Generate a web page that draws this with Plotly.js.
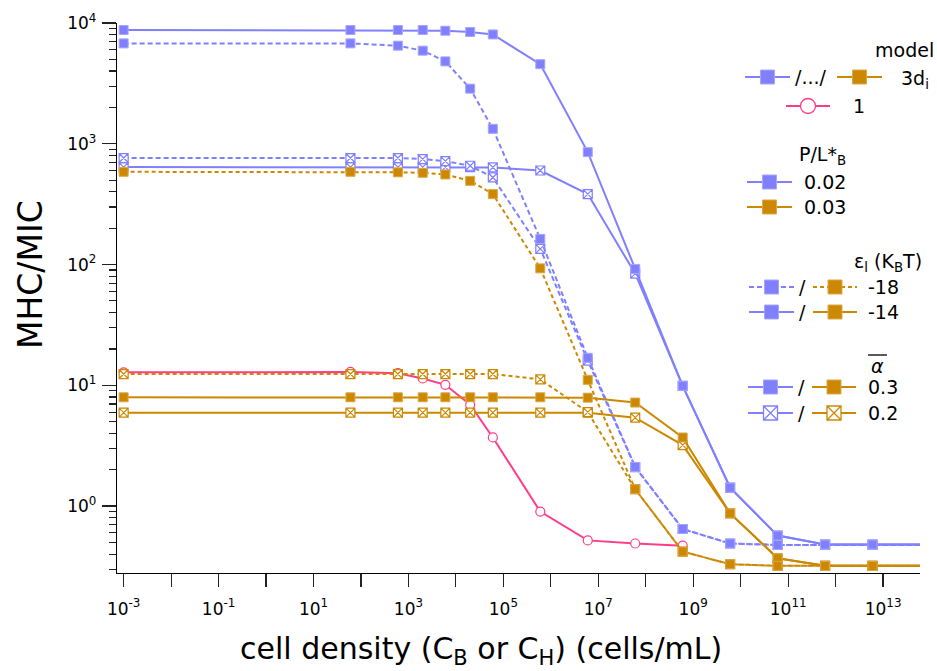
<!DOCTYPE html>
<html>
<head>
<meta charset="utf-8">
<script src="https://cdn.plot.ly/plotly-3.0.1.min.js"></script>
<style>html,body{margin:0;padding:0;background:#fff;}#chart{width:937px;height:671px;}</style>
</head>
<body>
<div id="chart"></div>
<script>
// ---------- data ----------
const cellDensity = [1e-3, 60, 600, 2000, 6000, 2e4, 6e4, 6e5, 6e6, 6e7, 6e8, 6e9, 6e10, 6e11, 6e12, 6e13];
const cellDensityModel1 = [1e-3, 60, 600, 2000, 6000, 2e4, 6e4, 6e5, 6e6, 6e7, 6e8];

// model /.../ (blue)
const blueSolidFilled  = [8750, 8750, 8750, 8750, 8630, 8420, 8040, 4560, 853, 92, 9.9, 1.42, 0.57, 0.48, 0.48, 0.48];
const blueDotFilled    = [6780, 6780, 6490, 5900, 4810, 2860, 1330, 163, 16.9, 2.11, 0.646, 0.49, 0.477, 0.477, 0.477, 0.477];
const blueDotCrossed   = [762, 762, 762, 747, 719, 658, 526, 135, 16.0, 2.1, 0.646, 0.49, 0.477, 0.477, 0.477, 0.477];
const blueSolidCrossed = [641, 641, 641, 641, 641, 641, 637, 601, 383, 84, 9.9, 1.42, 0.57, 0.48, 0.48, 0.48];

// model 3d_i (orange)
const orangeDotFilled    = [586, 586, 580, 575, 557, 493, 383, 93, 11.1, 1.38, 0.42, 0.33, 0.32, 0.32, 0.32, 0.32];
const orangeDotCrossed   = [12.4, 12.4, 12.4, 12.4, 12.4, 12.4, 12.4, 11.2, 6.0, 1.38, 0.42, 0.33, 0.32, 0.32, 0.32, 0.32];
const orangeSolidFilled  = [7.96, 7.96, 7.96, 7.96, 7.96, 7.96, 7.96, 7.96, 7.9, 7.2, 3.7, 0.87, 0.37, 0.32, 0.32, 0.32];
const orangeSolidCrossed = [5.94, 5.94, 5.94, 5.94, 5.94, 5.94, 5.94, 5.94, 5.94, 5.4, 3.2, 0.87, 0.37, 0.32, 0.32, 0.32];

// model 1 (pink)
const model1 = [12.8, 12.9, 12.6, 11.4, 10.1, 6.9, 3.7, 0.9, 0.52, 0.49, 0.47];

// tick labels
const xTickVals = [1e-3,1e-2,1e-1,1,10,100,1e3,1e4,1e5,1e6,1e7,1e8,1e9,1e10,1e11,1e12,1e13];
const xTickText = ['10<sup>-3</sup>','','10<sup>-1</sup>','','10<sup>1</sup>','','10<sup>3</sup>','','10<sup>5</sup>','','10<sup>7</sup>','','10<sup>9</sup>','','10<sup>11</sup>','','10<sup>13</sup>'];
const yTickVals = [1, 10, 100, 1000, 10000];
const yTickText = ['10<sup>0</sup>','10<sup>1</sup>','10<sup>2</sup>','10<sup>3</sup>','10<sup>4</sup>'];
const yMinorVals = [0.3,0.4,0.5,0.6,0.7,0.8,0.9,2,3,4,5,6,7,8,9,20,30,40,50,60,70,80,90,200,300,400,500,600,700,800,900,2000,3000,4000,5000,6000,7000,8000,9000];

// legend texts
const legendTexts = {model:'model', m1:'/.../', m2:'3d<sub>i</sub>', m3:'1', pl:'P/L*<sub>B</sub>', pl1:'0.02', pl2:'0.03',
  eps:'ε<sub>l</sub> (K<sub>B</sub>T)', e1:'-18', e2:'-14', a1:'0.3', a2:'0.2'};

// ---------- styles ----------
const BLUE = '#8080FF', BLUE_EDGE = '#A6A6FF';
const ORANGE = '#CC8800', ORANGE_EDGE = '#DDA84A';
const PINK = '#FF3D8A';
const FONT = 'DejaVu Sans, Verdana, sans-serif';
const BLUE_DOT = '5px,3px', ORANGE_DOT = '4px,3px';

function series(y, color, edge, dash, crossed, name) {
  return {
    x: cellDensity, y: y, type: 'scatter', mode: 'lines+markers', name: name,
    line: {color: color, width: 2, dash: dash},
    marker: {symbol: crossed ? 'square-x' : 'square', size: 9,
             color: crossed ? 'white' : color,
             line: {color: crossed ? color : edge, width: crossed ? 1.2 : 1}},
    cliponaxis: false, showlegend: false, hoverinfo: 'x+y'
  };
}

const traces = [
  {x: cellDensityModel1, y: model1, type: 'scatter', mode: 'lines+markers', name: '1',
   line: {color: PINK, width: 2}, marker: {symbol: 'circle', size: 9, color: 'white', line: {color: PINK, width: 1.2}},
   cliponaxis: false, showlegend: false},
  series(blueSolidCrossed, BLUE, BLUE_EDGE, 'solid', true, 'blue solid crossed'),
  series(blueDotCrossed, BLUE, BLUE_EDGE, BLUE_DOT, true, 'blue dot crossed'),
  series(blueDotFilled, BLUE, BLUE_EDGE, BLUE_DOT, false, 'blue dot filled'),
  series(blueSolidFilled, BLUE, BLUE_EDGE, 'solid', false, 'blue solid filled'),
  series(orangeSolidCrossed, ORANGE, ORANGE_EDGE, 'solid', true, 'orange solid crossed'),
  series(orangeSolidFilled, ORANGE, ORANGE_EDGE, 'solid', false, 'orange solid filled'),
  series(orangeDotCrossed, ORANGE, ORANGE_EDGE, ORANGE_DOT, true, 'orange dot crossed'),
  series(orangeDotFilled, ORANGE, ORANGE_EDGE, ORANGE_DOT, false, 'orange dot filled')
];

// ---------- hand-made legend (pixel-like overlay axes) ----------
const L = 117, R = 920, T = 23, B = 573;
function sample(x0, x1, y, color, edge, dash, symbol) {
  const xm = (x0 + x1) / 2;
  traces.push({x: [x0, x1], y: [y, y], xaxis: 'x2', yaxis: 'y2', type: 'scatter', mode: 'lines',
    line: {color: color, width: 2, dash: dash}, showlegend: false, hoverinfo: 'skip', cliponaxis: false});
  let m;
  if (symbol === 'circle') m = {symbol: 'circle', size: 15, color: 'white', line: {color: color, width: 1.3}};
  else if (symbol === 'square-x') m = {symbol: 'square-x', size: 14, color: 'white', line: {color: color, width: 1.3}};
  else m = {symbol: 'square', size: 14, color: color, line: {color: edge, width: 1}};
  traces.push({x: [xm], y: [y], xaxis: 'x2', yaxis: 'y2', type: 'scatter', mode: 'markers',
    marker: m, showlegend: false, hoverinfo: 'skip', cliponaxis: false});
}
sample(745, 790, 77, BLUE, BLUE_EDGE, 'solid', 'square');
sample(837, 882, 77, ORANGE, ORANGE_EDGE, 'solid', 'square');
sample(786, 830, 106, PINK, PINK, 'solid', 'circle');
sample(747, 792, 182, BLUE, BLUE_EDGE, 'solid', 'square');
sample(747, 792, 207, ORANGE, ORANGE_EDGE, 'solid', 'square');
sample(749, 794, 287, BLUE, BLUE_EDGE, BLUE_DOT, 'square');
sample(813, 857, 287, ORANGE, ORANGE_EDGE, ORANGE_DOT, 'square');
sample(749, 794, 312, BLUE, BLUE_EDGE, 'solid', 'square');
sample(813, 857, 312, ORANGE, ORANGE_EDGE, 'solid', 'square');
sample(748, 793, 387, BLUE, BLUE_EDGE, 'solid', 'square');
sample(812, 856, 387, ORANGE, ORANGE_EDGE, 'solid', 'square');
sample(748, 793, 413, BLUE, BLUE_EDGE, 'solid', 'square-x');
sample(812, 856, 413, ORANGE, ORANGE_EDGE, 'solid', 'square-x');

function px(x) { return (x - L) / (R - L); }
function py(y) { return (B - y) / (B - T); }
function ann(text, x, y, xanchor, size, extra) {
  return Object.assign({text: text, x: px(x), y: py(y), xref: 'paper', yref: 'paper',
    xanchor: xanchor, yanchor: 'middle', showarrow: false,
    font: {family: FONT, size: size || 19, color: '#000'}}, extra || {});
}
const annotations = [
  ann(legendTexts.model, 936, 50, 'right'),
  ann(legendTexts.m1, 793, 77, 'left'),
  ann(legendTexts.m2, 899, 79, 'left'),
  ann(legendTexts.m3, 851, 106, 'left'),
  ann(legendTexts.pl, 797, 155, 'left'),
  ann(legendTexts.pl1, 802, 182, 'left'),
  ann(legendTexts.pl2, 802, 207, 'left'),
  ann(legendTexts.eps, 852, 262, 'left'),
  ann('/', 802, 287, 'center'),
  ann(legendTexts.e1, 866, 287, 'left'),
  ann('/', 802, 312, 'center'),
  ann(legendTexts.e2, 866, 312, 'left'),
  ann('<i>α</i>', 877, 366, 'center'),
  ann('/', 801, 387, 'center'),
  ann(legendTexts.a1, 866, 387, 'left'),
  ann('/', 801, 413, 'center'),
  ann(legendTexts.a2, 866, 413, 'left'),
  ann('cell density (C<sub>B</sub> or C<sub>H</sub>) (cells/mL)', 481, 650, 'center', 30),
  ann('MHC/MIC', 30, 275, 'center', 33, {textangle: -90})
];

const layout = {
  width: 937, height: 671,
  margin: {l: L, r: 937 - R, t: T, b: 671 - B, pad: 0},
  paper_bgcolor: 'white', plot_bgcolor: 'white',
  showlegend: false,
  font: {family: FONT, color: '#000'},
  xaxis: {type: 'log', range: [-3.14, 13.778], showline: true, linecolor: '#000', linewidth: 1.2,
    ticks: 'outside', ticklen: 13, tickwidth: 1.2, tickcolor: '#222', ticklabelstandoff: 7,
    tickmode: 'array', tickvals: xTickVals, ticktext: xTickText,
    showgrid: false, zeroline: false, tickfont: {family: FONT, size: 17, color: '#000'}},
  yaxis: {type: 'log', range: [-0.554, 4.0], showline: true, linecolor: '#000', linewidth: 1.2,
    ticks: 'outside', ticklen: 14, tickwidth: 1.2, tickcolor: '#222', ticklabelstandoff: 2,
    tickmode: 'array', tickvals: yTickVals, ticktext: yTickText,
    minor: {ticks: 'outside', ticklen: 7, tickwidth: 1.2, tickcolor: '#222', tickmode: 'array', tickvals: yMinorVals, showgrid: false},
    showgrid: false, zeroline: false, tickfont: {family: FONT, size: 17, color: '#000'}},
  xaxis2: {range: [L, R], overlaying: 'x', anchor: 'y2', visible: false, fixedrange: true},
  yaxis2: {range: [B, T], overlaying: 'y', anchor: 'x2', visible: false, fixedrange: true},
  annotations: annotations,
  shapes: [
    {type: 'line', xref: 'paper', yref: 'paper', x0: px(868), x1: px(887), y0: py(355), y1: py(355),
     line: {color: '#000', width: 1.3}}
  ]
};

Plotly.newPlot('chart', traces, layout, {staticPlot: true, displayModeBar: false});
</script>
</body>
</html>
